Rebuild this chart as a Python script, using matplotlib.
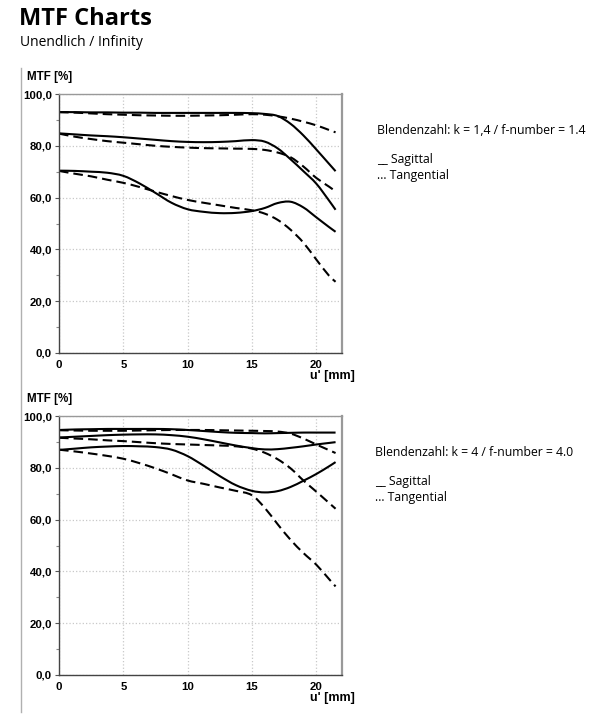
import matplotlib
matplotlib.use("Agg")
import matplotlib.pyplot as plt
from matplotlib.lines import Line2D
from matplotlib.path import Path
from matplotlib.patches import PathPatch
from matplotlib.ticker import MultipleLocator, FuncFormatter

# ---- data ----
x_pos = [0, 1.25, 2.5, 3.75, 5, 6.25, 7.5, 8.75, 10, 11.25, 12.5, 13.75,
         15, 16, 17, 18, 19, 20, 21, 21.5]

# f-number 1.4
k14_sag_1 = [93.0, 93.0, 92.9, 92.9, 92.8, 92.8, 92.7, 92.7, 92.7, 92.7, 92.7, 92.7,
             92.6, 92.3, 91.5, 88.5, 84.0, 78.6, 73.0, 70.2]
k14_tan_1 = [93.0, 92.8, 92.5, 92.2, 92.0, 91.8, 91.7, 91.6, 91.6, 91.7, 91.8, 92.0,
             92.2, 92.0, 91.4, 90.5, 89.3, 87.9, 86.1, 85.2]
k14_sag_2 = [84.8, 84.4, 84.0, 83.7, 83.3, 82.8, 82.3, 81.8, 81.5, 81.4, 81.5, 81.8,
             82.2, 81.6, 79.0, 74.8, 70.2, 65.4, 58.8, 55.3]
k14_tan_2 = [84.7, 83.5, 82.6, 81.8, 81.2, 80.6, 80.0, 79.6, 79.3, 79.1, 79.0, 78.9,
             78.8, 78.4, 77.4, 75.6, 72.0, 67.6, 64.2, 62.4]
k14_sag_3 = [70.4, 70.3, 70.0, 69.6, 68.4, 65.5, 61.8, 58.0, 55.5, 54.5, 54.0, 54.1,
             54.8, 56.0, 57.9, 58.4, 56.2, 52.4, 48.6, 46.8]
k14_tan_3 = [70.3, 69.2, 68.2, 66.9, 65.7, 64.1, 62.3, 60.6, 59.1, 58.0, 57.0, 56.0,
             55.1, 53.8, 51.4, 47.6, 42.6, 36.1, 29.8, 27.5]

# f-number 4.0
k4_sag_1 = [94.6, 94.8, 94.9, 95.0, 95.0, 95.0, 95.0, 94.9, 94.6, 94.2, 93.8, 93.5,
            93.4, 93.3, 93.4, 93.5, 93.6, 93.6, 93.6, 93.6]
k4_tan_1 = [94.5, 94.4, 94.3, 94.3, 94.3, 94.4, 94.5, 94.6, 94.6, 94.6, 94.5, 94.4,
            94.3, 94.2, 94.0, 93.2, 91.3, 89.0, 86.8, 85.7]
k4_sag_2 = [91.7, 92.0, 92.3, 92.6, 92.8, 92.9, 92.9, 92.6, 92.0, 91.0, 89.8, 88.6,
            87.6, 87.1, 87.2, 87.7, 88.3, 89.0, 89.6, 89.9]
k4_tan_2 = [91.6, 91.3, 91.0, 90.6, 90.3, 89.9, 89.5, 89.2, 89.0, 88.8, 88.6, 88.3,
            87.4, 85.8, 83.3, 79.8, 75.1, 70.8, 66.4, 64.2]
k4_sag_3 = [86.9, 87.4, 87.9, 88.2, 88.4, 88.3, 88.0, 87.0, 84.5, 80.8, 76.8, 73.3,
            71.1, 70.5, 71.0, 72.6, 75.0, 77.6, 80.6, 82.2]
k4_tan_3 = [87.0, 86.3, 85.5, 84.6, 83.5, 81.8, 79.8, 77.5, 75.1, 73.8, 72.4, 71.1,
            69.4, 64.5, 58.2, 52.2, 47.1, 42.6, 37.0, 34.2]

y_ticks = [0, 20, 40, 60, 80, 100]
x_ticks = [0, 5, 10, 15, 20]

panels = [
    ("Blendenzahl: k = 1,4 / f-number = 1.4",
     [k14_sag_1, k14_sag_2, k14_sag_3], [k14_tan_1, k14_tan_2, k14_tan_3]),
    ("Blendenzahl: k = 4 / f-number = 4.0",
     [k4_sag_1, k4_sag_2, k4_sag_3], [k4_tan_1, k4_tan_2, k4_tan_3]),
]

W, H = 593, 717
fig = plt.figure(figsize=(W / 100, H / 100), dpi=100)
fig.patch.set_facecolor("white")


def fx(px):
    return px / W


def fy(py):
    return 1 - py / H


def smooth_curve(ax, xs, ys, **kw):
    """Draw a smooth Bezier curve through the data points (Catmull-Rom style)."""
    n = len(xs)
    verts = [(xs[0], ys[0])]
    codes = [Path.MOVETO]
    for i in range(n - 1):
        x0, y0 = (xs[i - 1], ys[i - 1]) if i > 0 else (xs[i], ys[i])
        x1, y1 = xs[i], ys[i]
        x2, y2 = xs[i + 1], ys[i + 1]
        x3, y3 = (xs[i + 2], ys[i + 2]) if i + 2 < n else (xs[i + 1], ys[i + 1])
        h = x2 - x1
        t1y = (y2 - y0) / (x2 - x0) * h if x2 != x0 else 0
        t2y = (y3 - y1) / (x3 - x1) * h if x3 != x1 else 0
        c1 = (x1 + h / 3, y1 + t1y / 3)
        c2 = (x2 - h / 3, y2 - t2y / 3)
        verts += [c1, c2, (x2, y2)]
        codes += [Path.CURVE4, Path.CURVE4, Path.CURVE4]
    patch = PathPatch(Path(verts, codes), fill=False, **kw)
    ax.add_patch(patch)
    return patch


sans = ["Open Sans", "DejaVu Sans"]
arial = ["Liberation Sans", "DejaVu Sans"]

fig.text(fx(19), fy(19), "MTF Charts", fontsize=17, fontweight="bold",
         family=sans, va="center", ha="left")
fig.text(fx(20), fy(43), "Unendlich / Infinity", fontsize=10, family=sans,
         va="center", ha="left")

fig.add_artist(Line2D([fx(20.5), fx(20.5)], [fy(68), fy(712)], color="#b0b0b0", lw=1.0))

# axes pixel boxes: (left, top, right, bottom)
boxes = [(59, 94, 342, 353), (59, 416, 342, 675)]
legend_pos = [(377, 130, 160, 175), (375, 453, 482, 497)]

for (title, sag, tan), (l, t, r, b), (lx, ly, sy, ty) in zip(panels, boxes, legend_pos):
    ax = fig.add_axes([fx(l), fy(b), (r - l) / W, (b - t) / H])
    ax.set_xlim(0, 22)
    ax.set_ylim(0, 100)
    ax.set_xticks(x_ticks)
    ax.set_yticks(y_ticks)
    ax.yaxis.set_minor_locator(MultipleLocator(10))
    ax.yaxis.set_major_formatter(FuncFormatter(lambda v, p: f"{v:.1f}".replace(".", ",")))
    ax.grid(True, which="major", color="#c8c8c8", linestyle=":", lw=0.9)
    ax.set_axisbelow(True)
    for lab in ax.get_xticklabels() + ax.get_yticklabels():
        lab.set_fontfamily(arial)
        lab.set_fontweight("bold")
        lab.set_fontsize(8.2)
        lab.set_color("black")
    ax.tick_params(axis="y", which="major", length=3, width=0.8, color="#555555", pad=2)
    ax.tick_params(axis="y", which="minor", length=2, width=0.8, color="#888888")
    ax.tick_params(axis="x", which="major", length=0, pad=5)
    for side in ["top", "right"]:
        ax.spines[side].set_color("#999999")
    ax.spines["top"].set_linewidth(1.0)
    ax.spines["right"].set_linewidth(1.6)
    ax.spines["left"].set_color("#444444")
    ax.spines["bottom"].set_color("#444444")
    ax.spines["left"].set_linewidth(1.0)
    ax.spines["bottom"].set_linewidth(1.0)

    for ys in sag:
        smooth_curve(ax, x_pos, ys, edgecolor="black", lw=1.5, capstyle="butt")
    for ys in tan:
        smooth_curve(ax, x_pos, ys, edgecolor="black", lw=1.5,
                     linestyle=(0, (4.6, 2.4)), capstyle="butt")

    fig.text(fx(27), fy(t - 17), "MTF [%]", fontsize=8.4, fontweight="bold",
             family=arial, va="center", ha="left")
    fig.text(fx(310), fy(b + 23.5), "u' [mm]", fontsize=9, fontweight="bold",
             family=arial, va="center", ha="left")

    fig.text(fx(lx), fy(ly), title, fontsize=8.8, family=sans, va="center", ha="left")
    fig.text(fx(lx), fy(sy), "__ Sagittal", fontsize=8.8, family=sans, va="center", ha="left")
    fig.text(fx(lx), fy(ty), "\u2026 Tangential", fontsize=8.8, family=sans, va="center", ha="left")

fig.savefig("out.png", dpi=100, facecolor="white")
